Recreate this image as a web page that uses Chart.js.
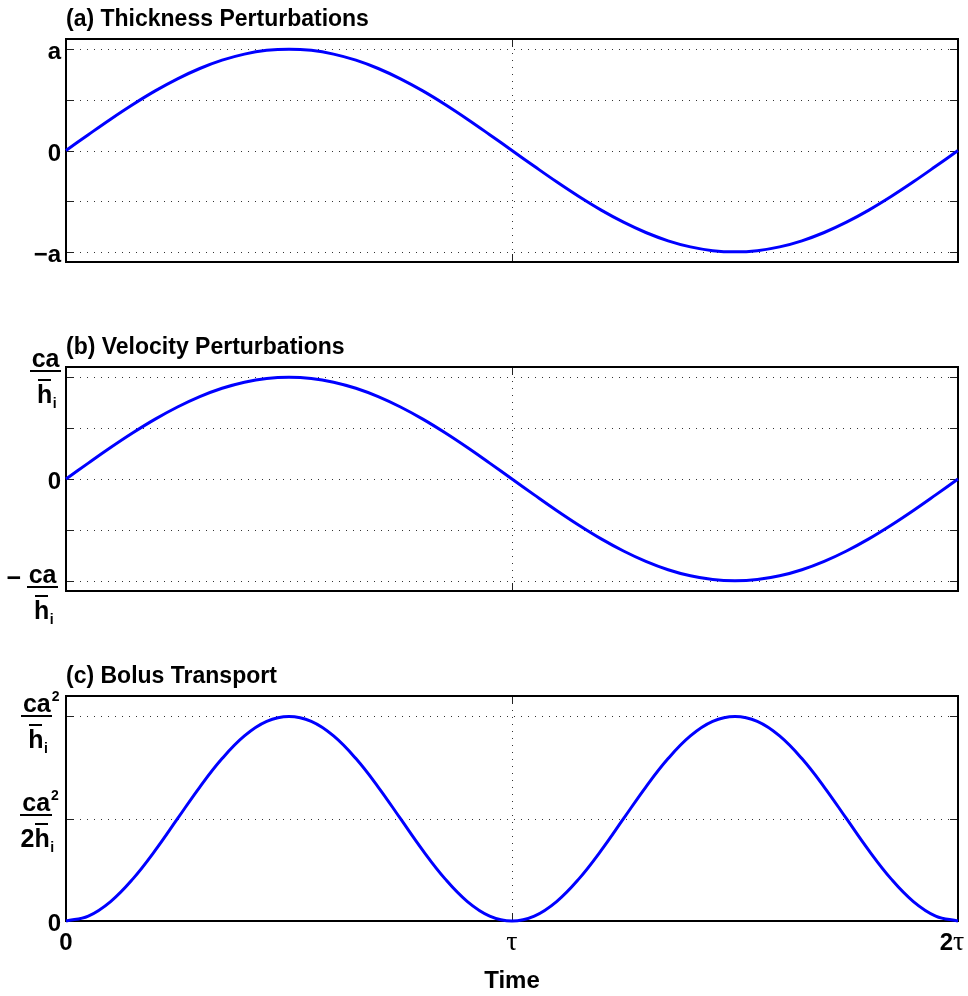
<!DOCTYPE html>
<html><head><meta charset="utf-8">
<script src="https://cdn.jsdelivr.net/npm/chart.js@4.4.0/dist/chart.umd.min.js"></script>
<style>
html,body{margin:0;padding:0;background:#fff;}
#wrap{position:relative;width:968px;height:996px;overflow:hidden;background:#fff;}
canvas{position:absolute;left:0;}
</style></head><body>
<div id="wrap">
<canvas id="cA" style="top:0px" width="968" height="300"></canvas>
<canvas id="cB" style="top:330px" width="968" height="300"></canvas>
<canvas id="cC" style="top:650px" width="968" height="346"></canvas>
</div>
<script>
// ---- data (time in units of tau) ----
const timeVals = [0,0.05,0.1,0.15,0.2,0.25,0.3,0.35,0.4,0.45,0.5,0.55,0.6,0.65,0.7,0.75,0.8,0.85,0.9,0.95,1,
  1.05,1.1,1.15,1.2,1.25,1.3,1.35,1.4,1.45,1.5,1.55,1.6,1.65,1.7,1.75,1.8,1.85,1.9,1.95,2];
const thickness = [0,0.156,0.309,0.454,0.588,0.707,0.809,0.891,0.951,0.988,1,0.988,0.951,0.891,0.809,0.707,0.588,0.454,0.309,0.156,0,
  -0.156,-0.309,-0.454,-0.588,-0.707,-0.809,-0.891,-0.951,-0.988,-1,-0.988,-0.951,-0.891,-0.809,-0.707,-0.588,-0.454,-0.309,-0.156,0];
const velocity = [0,0.156,0.309,0.454,0.588,0.707,0.809,0.891,0.951,0.988,1,0.988,0.951,0.891,0.809,0.707,0.588,0.454,0.309,0.156,0,
  -0.156,-0.309,-0.454,-0.588,-0.707,-0.809,-0.891,-0.951,-0.988,-1,-0.988,-0.951,-0.891,-0.809,-0.707,-0.588,-0.454,-0.309,-0.156,0];
const bolus = [0,0.024,0.095,0.206,0.345,0.5,0.655,0.794,0.905,0.976,1,0.976,0.905,0.794,0.655,0.5,0.345,0.206,0.095,0.024,0,
  0.024,0.095,0.206,0.345,0.5,0.655,0.794,0.905,0.976,1,0.976,0.905,0.794,0.655,0.5,0.345,0.206,0.095,0.024,0];
const xTicks = [0, 1, 2];
const xTickLabels = ['0', 'τ', '2τ'];
const yTicksAB = [-1, -0.5, 0, 0.5, 1];
const yTicksC = [0, 0.5, 1];
const titles = ['(a) Thickness Perturbations', '(b) Velocity Perturbations', '(c) Bolus Transport'];
const xAxisTitle = 'Time';

const F = (sz, bold, fam) => (bold ? 'bold ' : '') + sz + 'px ' + (fam || '"Liberation Sans", Arial, Helvetica, sans-serif');
const SERIF = '"Liberation Serif", "DejaVu Serif", serif';

function frac(ctx, rightX, barY, o) {
  const big = F(25, true), sm = F(14, true);
  ctx.font = big;
  const wNum = ctx.measureText(o.num).width;
  const wPre = o.pre ? ctx.measureText(o.pre).width : 0;
  const wH = ctx.measureText('h').width;
  ctx.font = sm;
  const wSup = o.sup ? ctx.measureText(o.sup).width + 1 : 0;
  const wSub = ctx.measureText('i').width;
  const barW = Math.max(wNum, wPre + wH) + 3;
  const cx = rightX - wSup - barW / 2;
  ctx.fillStyle = '#000';
  ctx.textBaseline = 'alphabetic';
  ctx.font = big;
  ctx.textAlign = 'center';
  ctx.fillText(o.num, cx, barY - 4);
  ctx.fillRect(Math.round(cx - barW / 2), Math.round(barY) - 1, Math.round(barW), 2);
  const dx = cx - (wPre + wH + wSub * 0.5) / 2;
  ctx.textAlign = 'left';
  ctx.fillText((o.pre || '') + 'h', dx, barY + 32);
  const hx = dx + wPre;
  ctx.fillRect(Math.round(hx + 1), Math.round(barY + 8), Math.round(wH - 2), 2);
  ctx.font = sm;
  ctx.fillText('i', hx + wH + 0.5, barY + 37);
  if (o.sup) ctx.fillText(o.sup, cx + wNum / 2 + 1, barY - 15);
  if (o.minus) {
    ctx.font = big;
    ctx.textAlign = 'right';
    ctx.fillText('−', cx - barW / 2 - 6, barY - 1);
  }
}

function makePanel(id, values, yMin, yMax, yTicks, title, pad, labelFn, showX) {
  const plugin = {
    id: 'panel_' + id,
    beforeDatasetsDraw(chart) {
      const { ctx, chartArea: a, scales: { x, y } } = chart;
      ctx.save();
      ctx.strokeStyle = '#333';
      ctx.lineWidth = 1;
      ctx.setLineDash([1, 6]);
      yTicks.forEach(v => {
        const py = Math.round(y.getPixelForValue(v)) + 0.5;
        if (py < a.top + 2 || py > a.bottom - 2) return;
        ctx.beginPath(); ctx.moveTo(a.left, py); ctx.lineTo(a.right, py); ctx.stroke();
      });
      xTicks.forEach(v => {
        const px = Math.round(x.getPixelForValue(v)) + 0.5;
        if (px < a.left + 2 || px > a.right - 2) return;
        ctx.beginPath(); ctx.moveTo(px, a.top); ctx.lineTo(px, a.bottom); ctx.stroke();
      });
      ctx.setLineDash([]);
      ctx.strokeStyle = '#222';
      yTicks.forEach(v => {
        const py = Math.round(y.getPixelForValue(v)) + 0.5;
        ctx.beginPath();
        ctx.moveTo(a.left, py); ctx.lineTo(a.left + 8, py);
        ctx.moveTo(a.right, py); ctx.lineTo(a.right - 8, py);
        ctx.stroke();
      });
      xTicks.forEach(v => {
        const px = Math.round(x.getPixelForValue(v)) + 0.5;
        ctx.beginPath();
        ctx.moveTo(px, a.top); ctx.lineTo(px, a.top + 8);
        ctx.moveTo(px, a.bottom); ctx.lineTo(px, a.bottom - 8);
        ctx.stroke();
      });
      ctx.strokeStyle = '#000';
      ctx.lineWidth = 2;
      ctx.strokeRect(a.left, a.top, a.right - a.left, a.bottom - a.top);
      ctx.restore();
    },
    afterDraw(chart) {
      const { ctx, chartArea: a, scales: { x, y } } = chart;
      ctx.save();
      ctx.fillStyle = '#000';
      ctx.font = F(23, true);
      ctx.textAlign = 'left';
      ctx.textBaseline = 'alphabetic';
      ctx.fillText(title, a.left, a.top - 13);
      labelFn(ctx, a, y);
      if (showX) {
        const by = a.bottom + 29;
        xTicks.forEach((v, i) => {
          const px = x.getPixelForValue(v);
          const lab = xTickLabels[i];
          ctx.textAlign = 'left';
          if (lab === '0') {
            ctx.font = F(24, true); ctx.textAlign = 'center'; ctx.fillText(lab, px, by);
          } else if (lab === 'τ') {
            ctx.font = F(28, false, SERIF); ctx.textAlign = 'center'; ctx.fillText(lab, px, by);
          } else {
            ctx.font = F(24, true); const w2 = ctx.measureText('2').width;
            ctx.font = F(28, false, SERIF); const wt = ctx.measureText('τ').width;
            const sx = px - 6 - (w2 + wt) / 2;
            ctx.font = F(24, true); ctx.fillText('2', sx, by);
            ctx.font = F(28, false, SERIF); ctx.fillText('τ', sx + w2, by);
          }
        });
        ctx.font = F(24, true);
        ctx.textAlign = 'center';
        ctx.fillText(xAxisTitle, (a.left + a.right) / 2, a.bottom + 67);
      }
      ctx.restore();
    }
  };
  return new Chart(document.getElementById(id), {
    type: 'line',
    data: {
      datasets: [{
        data: timeVals.map((t, i) => ({ x: t, y: values[i] })),
        borderColor: '#0000ff',
        borderWidth: 3,
        pointRadius: 0,
        fill: false,
        tension: 0.4,
        clip: false
      }]
    },
    options: {
      responsive: false,
      animation: false,
      devicePixelRatio: 1,
      layout: { padding: pad },
      plugins: { legend: { display: false }, tooltip: { enabled: false }, title: { display: false } },
      scales: {
        x: { type: 'linear', min: 0, max: 2, ticks: { display: false }, grid: { display: false }, border: { display: false },
             afterFit(s) { s.height = 0; } },
        y: { type: 'linear', min: yMin, max: yMax, ticks: { display: false }, grid: { display: false }, border: { display: false },
             afterFit(s) { s.width = 0; } }
      }
    },
    plugins: [plugin]
  });
}

function plainLabel(ctx, a, y, v, txt) {
  ctx.font = F(24, true);
  ctx.textAlign = 'right';
  ctx.textBaseline = 'alphabetic';
  ctx.fillText(txt, a.left - 5, y.getPixelForValue(v) + 10);
}

makePanel('cA', thickness, -1.1, 1.1, yTicksAB, titles[0], { left: 66, right: 10, top: 39, bottom: 38 },
  (ctx, a, y) => { plainLabel(ctx, a, y, 1, 'a'); plainLabel(ctx, a, y, 0, '0'); plainLabel(ctx, a, y, -1, '−a'); }, false);

makePanel('cB', velocity, -1.1, 1.1, yTicksAB, titles[1], { left: 66, right: 10, top: 37, bottom: 39 },
  (ctx, a, y) => {
    frac(ctx, a.left - 5, y.getPixelForValue(1) - 6, { num: 'ca' });
    plainLabel(ctx, a, y, 0, '0');
    frac(ctx, a.left - 8, y.getPixelForValue(-1) + 6, { num: 'ca', minus: true });
  }, false);

makePanel('cC', bolus, 0, 1.1, yTicksC, titles[2], { left: 66, right: 10, top: 46, bottom: 75 },
  (ctx, a, y) => {
    frac(ctx, a.left - 5, y.getPixelForValue(1), { num: 'ca', sup: '2' });
    frac(ctx, a.left - 5, y.getPixelForValue(0.5) - 4, { num: 'ca', sup: '2', pre: '2' });
    plainLabel(ctx, a, y, 0, '0');
  }, true);
</script>
</body></html>
